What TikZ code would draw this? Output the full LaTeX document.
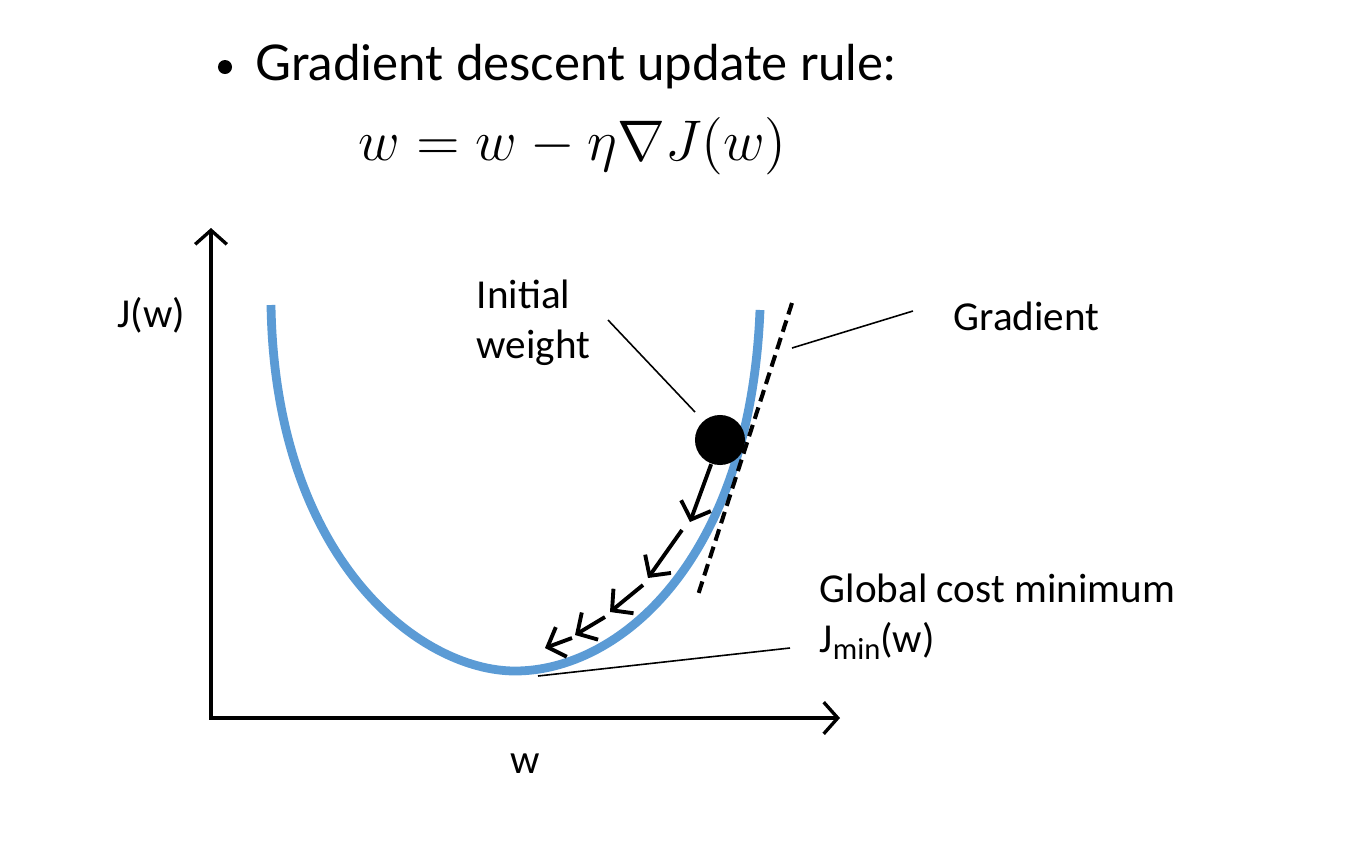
\documentclass[tikz,border=0pt]{standalone}
\usepackage{fix-cm}
\usepackage{fontspec}
\setmainfont{Carlito}
\newfontfamily\latofont{Lato}
\usepackage{tikz}
\usetikzlibrary{arrows.meta,positioning}
\definecolor{costblue}{RGB}{91,155,213}

\begin{document}
\begin{tikzpicture}[
x=0.01cm,y=-0.01cm,
axis/.style={line width=0.95pt,{Straight Barb[length=4pt,width=9pt]}-{Straight Barb[length=4pt,width=9pt]}},
cost/.style={line width=2.5pt,draw=costblue},
tangent/.style={line width=1.15pt,dash pattern=on 3.4pt off 1.8pt},
stepline/.style={line width=1.1pt,-{Straight Barb[length=4.2pt,width=9pt]}},
pointer/.style={line width=0.45pt},
lbl/.style={font=\fontsize{11.7}{14.2}\selectfont,inner sep=0pt},
ball/.style={circle,fill=black,inner sep=0pt,minimum size=0.5cm}
]
\useasboundingbox (0,0) rectangle (1366,866);

\node[circle,fill=black,inner sep=0pt,minimum size=0.14cm] (dot) at (225,67) {};
\node[font=\latofont\fontsize{14}{16}\selectfont,inner sep=0pt,anchor=base west] (title) at (255,80) {Gradient descent update rule:};
\node[font=\fontsize{16.3}{19}\selectfont,inner sep=0pt,anchor=base west] (rule) at (358,160) {$w = w - \eta\nabla J(w)$};

\coordinate (o) at (211,718);
\coordinate (ytip) at (211,228);
\coordinate (xtip) at (840,718);
\draw[axis] (ytip) -- (o) -- (xtip);

\draw[cost] (271,305) .. controls (275,560) and (420,671) .. (515,671)
    .. controls (620,671) and (750,560) .. (760,310);

\coordinate (tg1) at (792,303);
\coordinate (tg2) at (698,595);
\draw[tangent] (tg1) -- (tg2);

\node[ball] (w0) at (720,440) {};

\coordinate (e1) at (690,522);
\coordinate (s2) at (682,530);
\coordinate (e2) at (648,578);
\coordinate (s3) at (643,585);
\coordinate (e3) at (610,612);
\coordinate (s4) at (605,617);
\coordinate (e4) at (575,635);
\coordinate (s5) at (572,638);
\coordinate (e5) at (545,648);
\draw[stepline] (w0) -- (e1);
\foreach \i in {2,...,5}
{
    \draw[stepline] (s\i) -- (e\i);
}

\node[lbl,anchor=base west] (jw) at (117,327) {J(w)};
\node[lbl,anchor=base] (wl) at (525,773) {w};
\node[lbl,anchor=base west,align=left] (iw) at (476,358) {Initial\\weight};
\node[lbl,anchor=base west] (grad) at (953,330) {Gradient};
\node[lbl,anchor=base west,align=left] (gmin) at (819,652) {Global cost minimum\\J\raisebox{-0.4ex}{\fontsize{8.7}{8.7}\selectfont min}(w)};

\coordinate (iwp) at (608,320);
\coordinate (iwe) at (695,412);
\draw[pointer] (iwp) -- (iwe);
\coordinate (grp) at (913,311);
\coordinate (gre) at (792,348);
\draw[pointer] (grp) -- (gre);
\coordinate (gmp) at (790,648);
\coordinate (gme) at (538,676);
\draw[pointer] (gmp) -- (gme);
\end{tikzpicture}
\end{document}
